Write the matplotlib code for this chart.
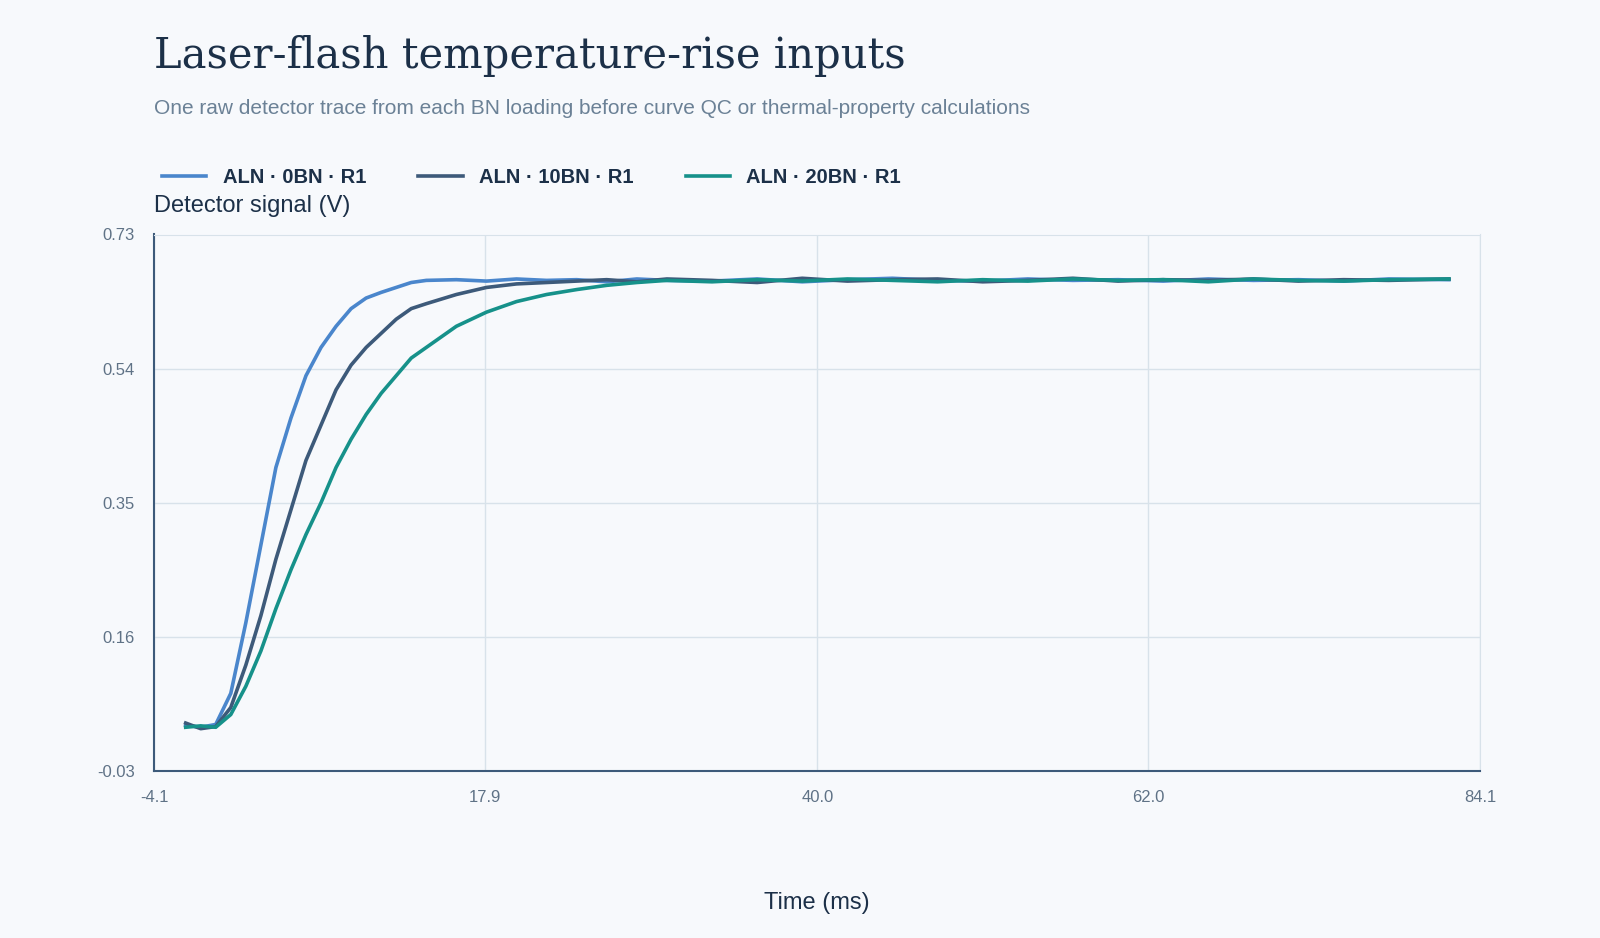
import matplotlib.pyplot as plt

# sample times (ms) and detector traces (V)
time_ms = [-2, -1, 0, 1, 2, 3, 4, 5, 6, 7, 8, 9, 10, 11, 12, 13, 14, 16, 18, 20, 22,
           24, 26, 28, 30, 33, 36, 39, 42, 45, 48, 51, 54, 57, 60, 63, 66, 69, 72, 75, 78, 82]
aln_0bn = [0.035, 0.032, 0.036, 0.08, 0.18, 0.29, 0.40, 0.47, 0.53, 0.57, 0.60, 0.625, 0.64,
           0.648, 0.655, 0.662, 0.665, 0.666, 0.664, 0.667, 0.665, 0.666, 0.663, 0.667, 0.665,
           0.664, 0.667, 0.663, 0.666, 0.668, 0.665, 0.664, 0.667, 0.665, 0.666, 0.664, 0.667,
           0.665, 0.666, 0.664, 0.667, 0.666]
aln_10bn = [0.038, 0.030, 0.033, 0.06, 0.12, 0.19, 0.27, 0.34, 0.41, 0.46, 0.51, 0.545, 0.57,
            0.59, 0.61, 0.625, 0.632, 0.645, 0.655, 0.66, 0.662, 0.664, 0.666, 0.663, 0.667,
            0.665, 0.662, 0.668, 0.664, 0.666, 0.667, 0.663, 0.665, 0.668, 0.664, 0.666, 0.665,
            0.667, 0.664, 0.666, 0.665, 0.667]
aln_20bn = [0.032, 0.034, 0.032, 0.05, 0.09, 0.14, 0.20, 0.255, 0.305, 0.35, 0.40, 0.44, 0.475,
            0.505, 0.53, 0.555, 0.57, 0.60, 0.62, 0.635, 0.645, 0.652, 0.658, 0.662, 0.665,
            0.663, 0.666, 0.664, 0.667, 0.665, 0.663, 0.666, 0.664, 0.667, 0.665, 0.666, 0.663,
            0.667, 0.665, 0.664, 0.666, 0.667]
series_labels = ["ALN · 0BN · R1", "ALN · 10BN · R1", "ALN · 20BN · R1"]
series_colors = ["#4a86cc", "#3d5a7a", "#16918a"]
x_ticks = [-4.1, 17.9, 40.0, 62.0, 84.1]
y_ticks = [-0.03, 0.16, 0.35, 0.54, 0.73]

plt.rcParams["font.family"] = ["Liberation Sans", "DejaVu Sans"]
bg = "#f7f9fc"
fig = plt.figure(figsize=(16, 9.38), dpi=100, facecolor=bg)
ax = fig.add_axes([0.0963, 0.178, 0.829, 0.572], facecolor=bg)

for vals, lab, col in zip([aln_0bn, aln_10bn, aln_20bn], series_labels, series_colors):
    ax.plot(time_ms, vals, color=col, lw=2.6, label=lab)

ax.set_xlim(-4.1, 84.1)
ax.set_ylim(-0.03, 0.73)
ax.set_xticks(x_ticks, [f"{v:.1f}" for v in x_ticks])
ax.set_yticks(y_ticks, [f"{v:.2f}" for v in y_ticks])
ax.grid(color="#d8e2ea", lw=1)
ax.tick_params(length=0, labelsize=12, colors="#5f7286", pad=14)
for s in ["top", "right"]:
    ax.spines[s].set_color("#d8e2ea")
for s in ["left", "bottom"]:
    ax.spines[s].set_color("#3d5a7a")
    ax.spines[s].set_linewidth(1.5)
ax.set_xlabel("Time (ms)", fontsize=17, color="#1c3048", labelpad=62)

fig.text(0.0963, 0.918, "Laser-flash temperature-rise inputs", family="DejaVu Serif",
         fontsize=30, color="#1c3048", va="bottom")
fig.text(0.0963, 0.878, "One raw detector trace from each BN loading before curve QC or thermal-property calculations",
         fontsize=15, color="#6b8196")
fig.text(0.0963, 0.774, "Detector signal (V)", fontsize=17, color="#1c3048")
fig.legend(loc="upper left", bbox_to_anchor=(0.09, 0.84), ncol=3, frameon=False,
           prop={"weight": "bold", "size": 14.5}, labelcolor="#1c3048",
           handlelength=2.2, columnspacing=2.6)

fig.savefig("out.png", dpi=100, facecolor=bg)
